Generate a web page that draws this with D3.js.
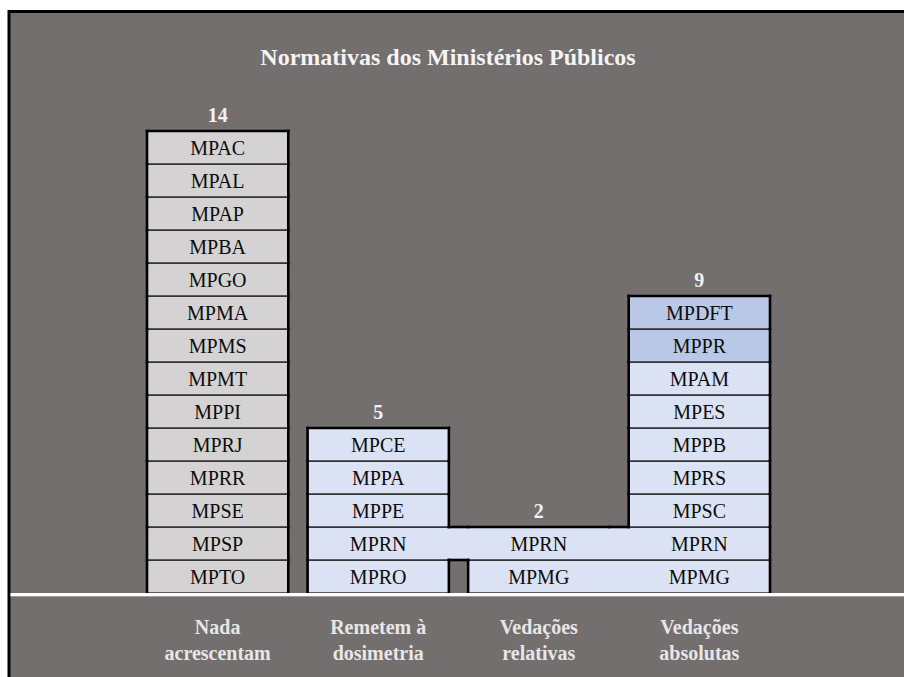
<!DOCTYPE html>
<html>
<head>
<meta charset="utf-8">
<script src="https://cdn.jsdelivr.net/npm/d3@7"></script>
<style>
  body { margin: 0; background: #fff; }
  text { font-family: "Liberation Serif", "Times New Roman", serif; }
</style>
</head>
<body>
<script>
// Chart data
const title = "Normativas dos Ministérios Públicos";
const categories = ["Nada acrescentam", "Remetem à dosimetria", "Vedações relativas", "Vedações absolutas"];
const categoryLines = [["Nada", "acrescentam"], ["Remetem à", "dosimetria"], ["Vedações", "relativas"], ["Vedações", "absolutas"]];
const counts = [14, 5, 2, 9];
// members of each group, listed top to bottom
const members = [
  ["MPAC", "MPAL", "MPAP", "MPBA", "MPGO", "MPMA", "MPMS", "MPMT", "MPPI", "MPRJ", "MPRR", "MPSE", "MPSP", "MPTO"],
  ["MPCE", "MPPA", "MPPE", "MPRN", "MPRO"],
  ["MPRN", "MPMG"],
  ["MPDFT", "MPPR", "MPAM", "MPES", "MPPB", "MPRS", "MPSC", "MPRN", "MPMG"]
];
const highlighted = ["MPDFT", "MPPR"];

const width = 904, height = 677;
const bg = "#736f6e";

const svg = d3.select("body").append("svg")
    .attr("width", width)
    .attr("height", height);

// frame
svg.append("rect")
  .attr("x", 9).attr("y", 11.5)
  .attr("width", width + 20).attr("height", height + 20)
  .attr("fill", bg)
  .attr("stroke", "#000")
  .attr("stroke-width", 3);

// scales
const x = d3.scaleBand()
  .domain(categories)
  .range([147, 770])
  .paddingInner(0.12)
  .paddingOuter(0);
const bw = x.bandwidth();

const y = d3.scaleLinear()
  .domain([0, d3.max(counts)])
  .range([593, 131]);

// name in column c at row r (row 0 = bottom)
function labelAt(c, r) {
  if (c < 0 || c >= members.length || r < 0) return null;
  const m = members[c];
  const i = m.length - 1 - r;
  return i >= 0 ? m[i] : null;
}

// build cells, merging neighbours that share a name on the same row
const cells = [];
for (let r = 0; r < d3.max(counts); r++) {
  let c = 0;
  while (c < categories.length) {
    const name = labelAt(c, r);
    if (!name) { c++; continue; }
    let end = c;
    while (end + 1 < categories.length && labelAt(end + 1, r) === name) end++;
    cells.push({ name: name, row: r, c0: c, c1: end });
    c = end + 1;
  }
}

const cellG = svg.append("g");

cellG.selectAll("rect.cell")
  .data(cells)
  .enter().append("rect")
  .attr("class", "cell")
  .attr("x", d => x(categories[d.c0]))
  .attr("width", d => x(categories[d.c1]) + bw - x(categories[d.c0]))
  .attr("y", d => y(d.row + 1))
  .attr("height", d => y(d.row) - y(d.row + 1))
  .attr("fill", d => d.c0 === 0 ? "#d4d2d2" : (highlighted.includes(d.name) ? "#b8c8e6" : "#dbe2f3"))
  .attr("stroke", "#262626")
  .attr("stroke-width", 1.4);

// cell texts, one per column covered
const cellTexts = [];
cells.forEach(d => {
  for (let c = d.c0; c <= d.c1; c++) cellTexts.push({ name: d.name, row: d.row, col: c });
});

cellG.selectAll("text.cellText")
  .data(cellTexts)
  .enter().append("text")
  .attr("class", "cellText")
  .attr("x", d => x(categories[d.col]) + bw / 2)
  .attr("y", d => (y(d.row) + y(d.row + 1)) / 2 + 7)
  .attr("text-anchor", "middle")
  .attr("fill", "#0c0c0c")
  .style("font-size", "20px")
  .text(d => d.name);

// thick outlines
const edges = [];
cells.forEach(d => {
  const x0 = x(categories[d.c0]);
  const x1 = x(categories[d.c1]) + bw;
  const yt = y(d.row + 1), yb = y(d.row);
  edges.push([x0, yt, x0, yb]);
  edges.push([x1, yt, x1, yb]);
  for (let c = d.c0; c <= d.c1; c++) {
    if (!labelAt(c, d.row + 1)) edges.push([x(categories[c]), yt, x(categories[c]) + bw, yt]);
    if (c < d.c1) {
      const gx0 = x(categories[c]) + bw, gx1 = x(categories[c + 1]);
      const above = labelAt(c, d.row + 1);
      if (!(above && above === labelAt(c + 1, d.row + 1))) edges.push([gx0, yt, gx1, yt]);
      const below = labelAt(c, d.row - 1);
      if (d.row > 0 && !(below && below === labelAt(c + 1, d.row - 1))) edges.push([gx0, yb, gx1, yb]);
    }
  }
});

svg.append("g").selectAll("line")
  .data(edges)
  .enter().append("line")
  .attr("x1", d => d[0]).attr("y1", d => d[1])
  .attr("x2", d => d[2]).attr("y2", d => d[3])
  .attr("stroke", "#000")
  .attr("stroke-width", 2.6)
  .attr("stroke-linecap", "square");

// count labels
svg.append("g").selectAll("text")
  .data(categories)
  .enter().append("text")
  .attr("x", d => x(d) + bw / 2)
  .attr("y", (d, i) => y(counts[i]) - 9)
  .attr("text-anchor", "middle")
  .attr("fill", "#f2f2f2")
  .style("font-size", "20px")
  .style("font-weight", "bold")
  .text((d, i) => counts[i]);

// white separator
svg.append("line")
  .attr("x1", 10.5).attr("x2", width)
  .attr("y1", 594.5).attr("y2", 594.5)
  .attr("stroke", "#fff")
  .attr("stroke-width", 3);
svg.append("line")
  .attr("x1", 10.5).attr("x2", width)
  .attr("y1", 596.5).attr("y2", 596.5)
  .attr("stroke", "#a19e9d")
  .attr("stroke-width", 1);

// category labels
const catText = svg.append("g").selectAll("text")
  .data(categories)
  .enter().append("text")
  .attr("x", d => x(d) + bw / 2)
  .attr("y", 634)
  .attr("text-anchor", "middle")
  .attr("fill", "#e8e6e6")
  .style("font-size", "20px")
  .style("font-weight", "bold");

catText.selectAll("tspan")
  .data((d, i) => categoryLines[i])
  .enter().append("tspan")
  .attr("x", function() { return this.parentNode.getAttribute("x"); })
  .attr("dy", (d, i) => i === 0 ? 0 : 26)
  .text(d => d);

// title
svg.append("text")
  .attr("x", 448)
  .attr("y", 65)
  .attr("text-anchor", "middle")
  .attr("fill", "#f4f4f4")
  .style("font-size", "24px")
  .style("font-weight", "bold")
  .text(title);
</script>
</body>
</html>
